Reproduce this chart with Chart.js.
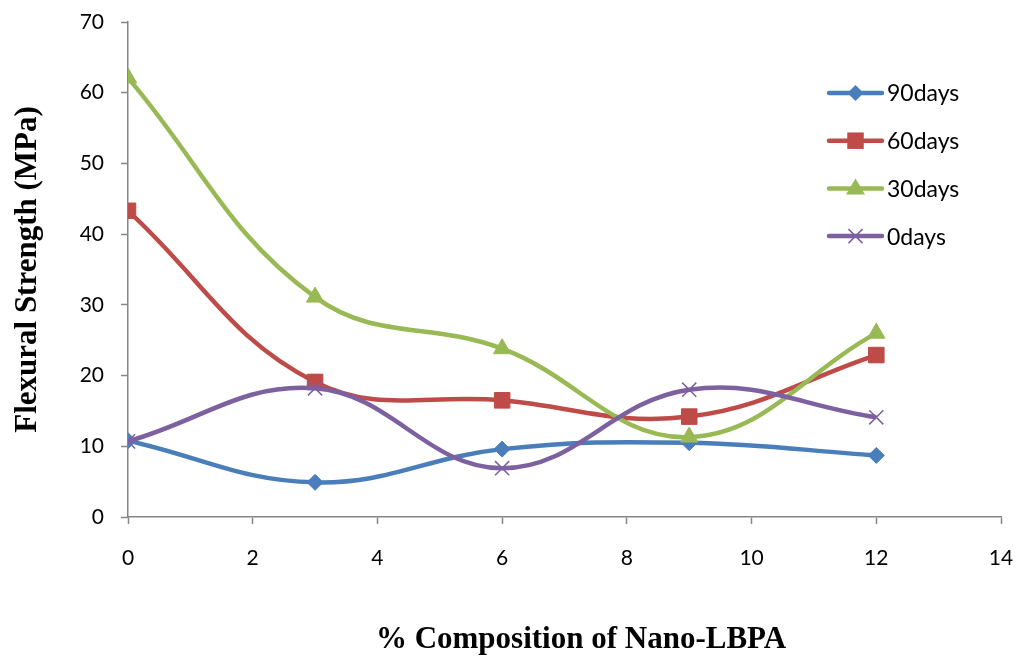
<!DOCTYPE html>
<html>
<head>
<meta charset="utf-8">
<script src="https://cdn.jsdelivr.net/npm/chart.js@4/dist/chart.umd.min.js"></script>
<style>
  html, body { margin: 0; padding: 0; background: #fff; }
  #wrap { width: 1021px; height: 661px; }
</style>
</head>
<body>
<div id="wrap"><canvas id="chart"></canvas></div>
<script>
// % de nano-LBPA en el eje X
const composicion = [0, 3, 6, 9, 12];
// resistencia a flexión (MPa) por edad
const dias90 = [10.8, 4.9, 9.6, 10.5, 8.7];
const dias60 = [43.3, 19.1, 16.5, 14.2, 22.9];
const dias30 = [62.1, 31.1, 23.8, 11.3, 26.0];
const dias0 = [10.7, 18.2, 6.9, 18.0, 14.1];
const etiquetas = ['90days', '60days', '30days', '0days'];
const tituloX = '% Composition of Nano-LBPA';

const AXIS = '#868686';
const SERIF = '"Liberation Serif", "Times New Roman", serif';

function serie(label, valores, color, estilo, radio, orden) {
    return {
        label: label,
        data: composicion.map((x, i) => ({ x: x, y: valores[i] })),
        borderColor: color,
        backgroundColor: color,
        pointBackgroundColor: color,
        pointBorderColor: color,
        pointStyle: estilo,
        pointRadius: radio,
        pointBorderWidth: estilo === 'crossRot' ? 1.5 : 1,
        borderWidth: 4.5,
        tension: 0.4,
        order: orden
    };
}

// marcador para la leyenda (dibujado a mano)
function marcador(ctx, estilo, x, y, r, color) {
    ctx.save();
    ctx.fillStyle = color;
    ctx.strokeStyle = color;
    ctx.beginPath();
    if (estilo === 'rectRot') {
        ctx.moveTo(x, y - r); ctx.lineTo(x + r, y); ctx.lineTo(x, y + r); ctx.lineTo(x - r, y);
        ctx.closePath(); ctx.fill();
    } else if (estilo === 'rect') {
        const s = r * 0.75;
        ctx.rect(x - s, y - s, 2 * s, 2 * s); ctx.fill();
    } else if (estilo === 'triangle') {
        ctx.moveTo(x, y - r); ctx.lineTo(x + r * 0.95, y + r * 0.6); ctx.lineTo(x - r * 0.95, y + r * 0.6);
        ctx.closePath(); ctx.fill();
    } else {
        const d = r * 0.7;
        ctx.lineWidth = 1.5;
        ctx.moveTo(x - d, y - d); ctx.lineTo(x + d, y + d);
        ctx.moveTo(x + d, y - d); ctx.lineTo(x - d, y + d);
        ctx.stroke();
    }
    ctx.restore();
}

const leyendaManual = {
    id: 'leyendaManual',
    afterDraw(chart) {
        const ctx = chart.ctx;
        const x0 = 829, x1 = 882;
        chart.data.datasets.forEach((ds, i) => {
            const y = 93 + i * 47.7;
            ctx.save();
            ctx.strokeStyle = ds.borderColor;
            ctx.lineWidth = 4.5;
            ctx.lineCap = 'round';
            ctx.beginPath();
            ctx.moveTo(x0, y); ctx.lineTo(x1, y);
            ctx.stroke();
            ctx.restore();
            marcador(ctx, ds.pointStyle, (x0 + x1) / 2, y, ds.pointRadius, ds.borderColor);
            ctx.save();
            ctx.fillStyle = '#000';
            ctx.font = '23px Lato, "Open Sans", sans-serif';
            ctx.textBaseline = 'middle';
            ctx.fillText(ds.label, 887, y + 1);
            ctx.restore();
        });

        // título del eje X (en el original está algo desplazado a la derecha)
        ctx.save();
        ctx.fillStyle = '#000';
        ctx.font = 'bold 31px ' + SERIF;
        ctx.textAlign = 'center';
        ctx.textBaseline = 'middle';
        ctx.fillText(tituloX, 581, 640);
        ctx.restore();
    }
};

// quitar el relleno automático de las etiquetas extremas
function sinRelleno(s) {
    s.paddingLeft = 0; s.paddingRight = 0;
    s.paddingTop = 0; s.paddingBottom = 0;
}

new Chart(document.getElementById('chart'), {
    type: 'line',
    data: {
        datasets: [
            serie(etiquetas[0], dias90, '#4A7EBB', 'rectRot', 8, 4),
            serie(etiquetas[1], dias60, '#BE4B48', 'rect', 11, 3),
            serie(etiquetas[2], dias30, '#98B954', 'triangle', 10, 2),
            serie(etiquetas[3], dias0, '#7D60A0', 'crossRot', 10, 1)
        ]
    },
    options: {
        responsive: true,
        maintainAspectRatio: false,
        animation: false,
        layout: { padding: { top: 22, right: 20, bottom: 0, left: 0 } },
        plugins: {
            legend: { display: false },
            tooltip: { enabled: false }
        },
        scales: {
            x: {
                type: 'linear',
                min: 0,
                max: 14,
                afterFit: (s) => { s.height = 144; sinRelleno(s); },
                ticks: {
                    stepSize: 2,
                    color: '#000',
                    padding: 22,
                    font: { family: 'Lato, "Open Sans", sans-serif', size: 21 }
                },
                grid: { drawOnChartArea: false, color: AXIS, tickLength: 7, tickWidth: 1.5 },
                border: { color: AXIS, width: 1.5 },
                title: { display: false }
            },
            y: {
                min: 0,
                max: 70,
                afterFit: (s) => { s.width = 128; sinRelleno(s); },
                ticks: {
                    stepSize: 10,
                    color: '#000',
                    padding: 17,
                    font: { family: 'Lato, "Open Sans", sans-serif', size: 21 }
                },
                grid: { drawOnChartArea: false, color: AXIS, tickLength: 7, tickWidth: 1.5 },
                border: { color: AXIS, width: 1.5 },
                title: {
                    display: true,
                    text: 'Flexural Strength (MPa)',
                    color: '#000',
                    padding: { top: 9, bottom: 0 },
                    font: { family: SERIF, size: 31, weight: 'bold' }
                }
            }
        }
    },
    plugins: [leyendaManual]
});
</script>
</body>
</html>
